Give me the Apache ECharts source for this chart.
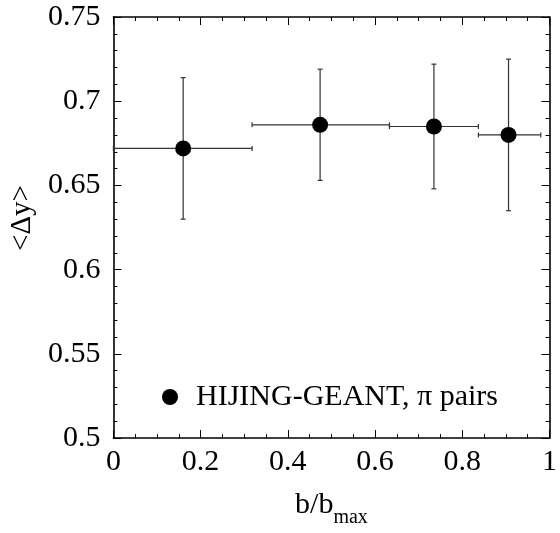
<!DOCTYPE html>
<html>
<head>
<meta charset="utf-8">
<script src="https://cdn.jsdelivr.net/npm/echarts@6/dist/echarts.min.js"></script>
<style>html,body{margin:0;padding:0;background:#fff;}#c{width:560px;height:533px;}</style>
</head>
<body>
<div id="c"></div>
<script>
// Data
var xVals = [0.160, 0.474, 0.735, 0.906];
var yVals = [0.672, 0.686, 0.685, 0.680];
var xLow  = [0.000, 0.318, 0.633, 0.837];
var xHigh = [0.318, 0.633, 0.837, 0.980];
var yLow  = [0.630, 0.653, 0.648, 0.635];
var yHigh = [0.714, 0.719, 0.722, 0.725];
var seriesName = 'HIJING-GEANT, \u03c0 pairs';
var xTicks = [0, 0.2, 0.4, 0.6, 0.8, 1];
var yTicks = [0.5, 0.55, 0.6, 0.65, 0.7, 0.75];

var FONT = 'Liberation Serif';
var pts = xVals.map(function (x, i) { return [x, yVals[i]]; });
var errs = xVals.map(function (x, i) { return [x, yVals[i], xLow[i], xHigh[i], yLow[i], yHigh[i]]; });

var chart = echarts.init(document.getElementById('c'), null, {renderer: 'canvas'});

function axisCommon(show) {
  return {
    axisLine: {show: true, onZero: false, lineStyle: {color: '#000', width: 1.6}},
    axisTick: {show: true, inside: true, length: 8, lineStyle: {color: '#000', width: 1}},
    splitLine: {show: false},
    axisLabel: {show: show, color: '#000', fontFamily: FONT, fontSize: 30, margin: 9}
  };
}

var xB = Object.assign(axisCommon(true), {
  type: 'value', position: 'bottom', min: xTicks[0], max: xTicks[xTicks.length - 1], interval: 0.2,
  minorTick: {show: true, splitNumber: 4, length: 4, lineStyle: {color: '#000', width: 1}},
  name: '{main|b/b}{sub|max}', nameLocation: 'middle', nameGap: 43,
  nameTextStyle: {color: '#000', fontFamily: FONT, fontSize: 30,
    rich: {
      main: {fontFamily: FONT, fontSize: 30, lineHeight: 30, color: '#000'},
      sub: {fontFamily: FONT, fontSize: 20, lineHeight: 20, color: '#000', padding: [26, 0, 0, 0]}
    }}
});
var xT = Object.assign(axisCommon(false), {
  type: 'value', position: 'top', min: 0, max: 1, interval: 0.2,
  minorTick: {show: true, splitNumber: 4, length: 4, lineStyle: {color: '#000', width: 1}}
});
var yL = Object.assign(axisCommon(true), {
  type: 'value', position: 'left', min: yTicks[0], max: yTicks[yTicks.length - 1], interval: 0.05,
  minorTick: {show: true, splitNumber: 5, length: 4, lineStyle: {color: '#000', width: 1}},
  name: '<\u0394y>', nameLocation: 'middle', nameGap: 72, nameRotate: 90,
  nameTextStyle: {color: '#000', fontFamily: FONT, fontSize: 29, padding: [0, 0, 0, 19]}
});
yL.axisLabel.margin = 13;
var yR = Object.assign(axisCommon(false), {
  type: 'value', position: 'right', min: 0.5, max: 0.75, interval: 0.05,
  minorTick: {show: true, splitNumber: 5, length: 4, lineStyle: {color: '#000', width: 1}}
});

chart.setOption({
  animation: false,
  backgroundColor: '#fff',
  grid: {left: 107, right: 4, top: 17, bottom: 91, containLabel: false},
  xAxis: [xB, xT],
  yAxis: [yL, yR],
  legend: {
    data: [{name: seriesName, icon: 'circle'}],
    left: 157, top: 377, itemWidth: 16, itemHeight: 16, itemGap: 0,
    textStyle: {color: '#000', fontFamily: FONT, fontSize: 30, padding: [0, 0, 0, 13]},
    itemStyle: {color: '#000', opacity: 1},
    selectedMode: false
  },
  series: [
    {
      type: 'custom', name: 'err', xAxisIndex: 0, yAxisIndex: 0, data: errs, z: 2,
      renderItem: function (params, api) {
        var c = api.coord([api.value(0), api.value(1)]);
        var l = api.coord([api.value(2), api.value(1)]);
        var r = api.coord([api.value(3), api.value(1)]);
        var lo = api.coord([api.value(0), api.value(4)]);
        var hi = api.coord([api.value(0), api.value(5)]);
        var st = {stroke: '#333', lineWidth: 1.2};
        var cap = 2.5;
        return {type: 'group', children: [
          {type: 'line', shape: {x1: l[0], y1: c[1], x2: r[0], y2: c[1]}, style: st},
          {type: 'line', shape: {x1: l[0], y1: c[1] - cap, x2: l[0], y2: c[1] + cap}, style: st},
          {type: 'line', shape: {x1: r[0], y1: c[1] - cap, x2: r[0], y2: c[1] + cap}, style: st},
          {type: 'line', shape: {x1: c[0], y1: lo[1], x2: c[0], y2: hi[1]}, style: st},
          {type: 'line', shape: {x1: c[0] - cap, y1: lo[1], x2: c[0] + cap, y2: lo[1]}, style: st},
          {type: 'line', shape: {x1: c[0] - cap, y1: hi[1], x2: c[0] + cap, y2: hi[1]}, style: st}
        ]};
      }
    },
    {
      type: 'scatter', name: seriesName, xAxisIndex: 0, yAxisIndex: 0, data: pts, z: 3,
      symbol: 'circle', symbolSize: 16, itemStyle: {color: '#000', opacity: 1}
    }
  ]
});
</script>
</body>
</html>
